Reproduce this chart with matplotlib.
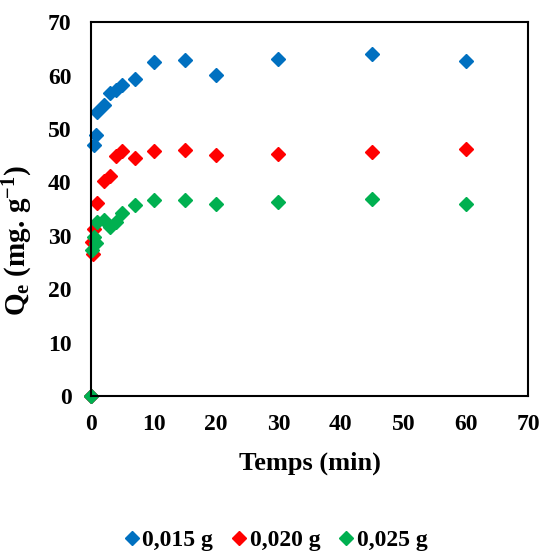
import matplotlib
matplotlib.use("Agg")
import matplotlib.pyplot as plt

# data
t_015 = [0, 0.5, 0.75, 1, 2, 3, 4, 5, 7, 10, 15, 20, 30, 45, 60]
q_015 = [0, 47.0, 48.8, 53.2, 54.6, 56.7, 57.3, 58.2, 59.4, 62.6, 62.9, 60.2, 63.2, 64.0, 62.7]

t_020 = [0, 0.1, 0.25, 0.5, 1, 2, 3, 4, 5, 7, 10, 15, 20, 30, 45, 60]
q_020 = [0, 28.9, 26.6, 31.2, 36.1, 40.3, 41.3, 45.0, 45.8, 44.5, 45.9, 46.1, 45.2, 45.4, 45.7, 46.2]

t_025 = [0, 0.1, 0.5, 0.75, 1, 2, 3, 4, 5, 7, 10, 15, 20, 30, 45, 60]
q_025 = [0, 27.3, 29.8, 28.6, 32.6, 33.0, 31.6, 32.6, 34.3, 35.8, 36.7, 36.8, 35.9, 36.3, 36.9, 35.9]

labels = ["0,015 g", "0,020 g", "0,025 g"]
colors = ["#0070C0", "#FF0000", "#00B050"]

plt.rcParams["font.family"] = "Liberation Serif"
plt.rcParams["font.weight"] = "bold"
plt.rcParams["mathtext.fontset"] = "custom"
plt.rcParams["mathtext.rm"] = "Liberation Serif:bold"
plt.rcParams["mathtext.it"] = "Liberation Serif:bold:italic"
plt.rcParams["mathtext.bf"] = "Liberation Serif:bold"

fig = plt.figure(figsize=(5.52, 5.52), dpi=100)
ax = fig.add_axes([0.165, 0.2826, 0.792, 0.677])

ax.plot(t_015, q_015, "D", color=colors[0], markersize=7, label=labels[0], clip_on=False)
ax.plot(t_020, q_020, "D", color=colors[1], markersize=7, label=labels[1], clip_on=False)
ax.plot(t_025, q_025, "D", color=colors[2], markersize=7, label=labels[2], clip_on=False)

ax.set_xlim(0, 70)
ax.set_ylim(0, 70)
ax.set_xticks(range(0, 71, 10))
ax.set_yticks(range(0, 71, 10))
ax.tick_params(axis="x", length=0, labelsize=17, pad=13)
ax.tick_params(axis="y", length=0, labelsize=17, pad=14)
for lab in ax.get_xticklabels() + ax.get_yticklabels():
    lab.set_fontweight("bold")
for s in ax.spines.values():
    s.set_linewidth(1.5)

ax.set_xlabel("Temps (min)", fontsize=19, fontweight="bold")
ax.xaxis.set_label_coords(0.501, -0.148)
ax.set_ylabel("Q$_\\mathrm{e}$ (mg. g$^\\mathrm{-1}$)", fontsize=21, fontweight="bold")
ax.yaxis.set_label_coords(-0.128, 0.415)

fig.legend(loc="center", bbox_to_anchor=(0.498, 0.021), ncol=3, frameon=False,
           fontsize=17, handlelength=0.8, handletextpad=0.05, columnspacing=0.7)

fig.savefig("out.png", dpi=100)
